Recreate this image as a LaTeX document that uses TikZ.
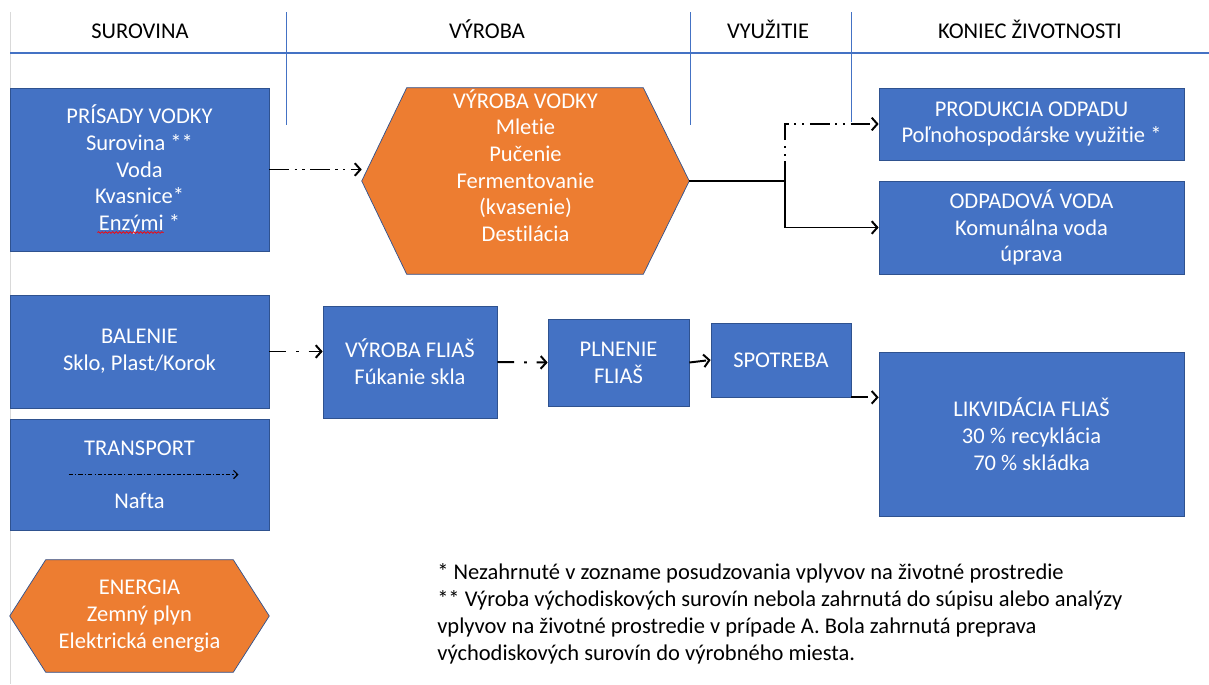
\documentclass[tikz,border=0pt]{standalone}
\usepackage{fontspec}
\setmainfont[Ligatures=NoCommon]{Carlito}
\usetikzlibrary{positioning}
\usetikzlibrary{arrows.meta}
\usetikzlibrary{calc}
\usetikzlibrary{decorations.pathmorphing}

\definecolor{boxblue}{HTML}{4472C4}
\definecolor{boxline}{HTML}{2F528F}
\definecolor{hexorange}{HTML}{ED7D31}
\definecolor{gridgray}{HTML}{D9D9D9}

\begin{document}
\begin{tikzpicture}[
        x=0.025cm, y=-0.025cm,
        every node/.style={font=\fontsize{16}{19}\selectfont, align=center},
        >={Straight Barb[length=4pt, width=9pt]},
        blok/.style 2 args={fill=boxblue, draw=boxline, line width=0.5pt, text=white,
            minimum width=#1*0.025cm, minimum height=#2*0.025cm, inner sep=0pt},
        hexframe/.style 2 args={minimum width=#1*0.025cm, minimum height=#2*0.025cm, inner sep=0pt},
        hexa/.style={fill=hexorange, draw=boxline, line width=0.5pt},
        hextext/.style={text=white},
        hlavicka/.style={anchor=base},
        ddot/.style={->, line width=1.4pt, dash pattern=on 14pt off 4pt on 1.5pt off 4pt on 1.5pt off 4pt},
        dd/.style={->, line width=1.4pt, dash pattern=on 12pt off 7pt on 2pt off 7pt},
        ln/.style={->, line width=1.4pt},
        fine/.style={-{Straight Barb[length=3pt, width=6pt]}, line width=0.8pt,
            dash pattern=on 3pt off 1.5pt on 1pt off 1.5pt}
    ]

        \useasboundingbox (0,0) rectangle (1209,684);

        % Hlavička
        \draw[gridgray] (10,12) -- (10,684);
        \draw[boxblue, line width=1.5pt] (10,53) -- (1209,53);
        \foreach \x in {286, 690} {
            \draw[boxblue] (\x,12) -- (\x,125);
        }
        \draw[boxblue] (851,12) -- (851,122);

        \node[hlavicka] (surovina) at (140,38) {SUROVINA};
        \node[hlavicka] (vyroba) at (487,38) {VÝROBA};
        \node[hlavicka] (vyuzitie) at (768,38) {VYUŽITIE};
        \node[hlavicka] (koniec) at (1030,38) {KONIEC ŽIVOTNOSTI};

        % Bloky
        \node[blok={259}{163}] (prisady) at (139.5,169.5) {PRÍSADY VODKY\\Surovina **\\Voda\\Kvasnice*\\Enzými *};
        \draw[red, line width=0.5pt, decorate, decoration={snake, amplitude=0.6pt, segment length=2.5pt}]
            ($(prisady.center)+(-42,63)$) -- ($(prisady.center)+(24,63)$);

        \node[blok={305}{72}] (odpad) at (1031.5,124) {PRODUKCIA ODPADU\\Poľnohospodárske využitie *};
        \node[blok={305}{93}] (odpvoda) at (1031.5,227.5) {ODPADOVÁ VODA\\Komunálna voda\\úprava};
        \node[blok={259}{113}] (balenie) at (139.5,351.5) {BALENIE\\Sklo, Plast/Korok};
        \node[blok={259}{111}] (transport) at (139.5,474.5) {TRANSPORT\\[19pt]Nafta};
        \node[blok={174}{112}] (flias) at (410,362) {VÝROBA FLIAŠ\\Fúkanie skla};
        \node[blok={141}{87}] (plnenie) at (618.5,362.5) {PLNENIE\\FLIAŠ};
        \node[blok={140}{74}] (spotreba) at (781,360) {SPOTREBA};
        \node[blok={305}{164}] (likvidacia) at (1031.5,434) {LIKVIDÁCIA FLIAŠ\\30 \% recyklácia\\70 \% skládka};

        % Šesťuholníky
        \node[hexframe={327}{186}] (vodka) at (525.5,181) {};
        \filldraw[hexa] (vodka.west) -- ($(vodka.north west)+(45,0)$) -- ($(vodka.north east)+(-46,0)$)
            -- (vodka.east) -- ($(vodka.south east)+(-46,0)$) -- ($(vodka.south west)+(45,0)$) -- cycle;
        \node[hextext] (vodkatext) at ($(vodka.center)+(0,-15.5)$) {VÝROBA VODKY\\Mletie\\Pučenie\\Fermentovanie\\(kvasenie)\\Destilácia};

        \node[hexframe={259}{112}] (energia) at (139.5,616) {};
        \filldraw[hexa] (energia.west) -- ($(energia.north west)+(36,0)$) -- ($(energia.north east)+(-36,0)$)
            -- (energia.east) -- ($(energia.south east)+(-36,0)$) -- ($(energia.south west)+(36,0)$) -- cycle;
        \node[hextext] (energiatext) at (energia.center) {ENERGIA\\Zemný plyn\\Elektrická energia};

        % Šípky
        \draw[ddot] (prisady.east) -- (prisady.east -| vodka.west);
        \coordinate (split) at ($(vodka.east)+(96,0)$);
        \draw[ln] (vodka.east) -- (split) |- (odpvoda.west);
        \draw[ddot] (split) |- (odpad.west);

        \draw[dd] (balenie.east) -- (balenie.east -| flias.west);
        \draw[dd] (flias.east) -- (plnenie.west);
        \draw[dd] (plnenie.east) -- (spotreba.west);
        \draw[dd] (spotreba.south east) -- (spotreba.south east -| likvidacia.west);

        \draw[fine] ($(transport.center)+(-71,0)$) -- ($(transport.center)+(99,0)$);

        % Poznámky
        \node[anchor=base west, align=left, inner sep=0pt] (poznamky) at (437,660)
            {* Nezahrnuté v zozname posudzovania vplyvov na životné prostredie\\
             ** Výroba východiskových surovín nebola zahrnutá do súpisu alebo analýzy\\
             vplyvov na životné prostredie v prípade A. Bola zahrnutá preprava\\
             východiskových surovín do výrobného miesta.};

    \end{tikzpicture}
\end{document}
